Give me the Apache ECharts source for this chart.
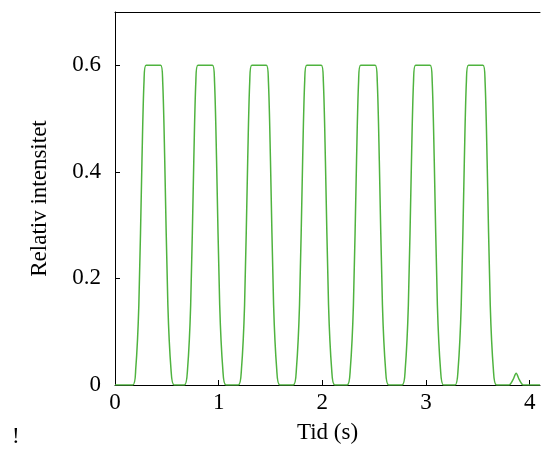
<!DOCTYPE html>
<html><head><meta charset="utf-8">
<script src="https://cdn.jsdelivr.net/npm/echarts@6/dist/echarts.min.js"></script>
<style>html,body{margin:0;background:#fff}#main{width:541px;height:455px}</style>
</head><body><div id="main"></div>
<script>
// pulse centres (s)
var pulseCenters = [0.37, 0.87, 1.39, 1.92, 2.44, 2.97, 3.48];
// one pulse, offset from its centre and intensity
var pulseOffsets = [-0.20, -0.17, -0.14, -0.11, -0.09, -0.07, 0.07, 0.09, 0.11, 0.14, 0.17, 0.20];
var pulseValues  = [0, 0.03, 0.15, 0.42, 0.57, 0.6, 0.6, 0.57, 0.42, 0.15, 0.03, 0];
var tailTimes = [3.80, 3.84, 3.87, 3.90, 3.94, 4.10];
var tailValues = [0, 0.01, 0.022, 0.01, 0, 0];

var data = [[0, 0]];
pulseCenters.forEach(function (c) {
  pulseOffsets.forEach(function (o, i) { data.push([+(c + o).toFixed(3), pulseValues[i]]); });
});
tailTimes.forEach(function (t, i) { data.push([t, tailValues[i]]); });

var font = '"Liberation Serif", "Times New Roman", Times, serif';
var myChart = echarts.init(document.getElementById('main'));
var option = {
  animation: false,
  grid: { left: 115, right: 1, top: 12, bottom: 70 },
  xAxis: [{
    type: 'value', min: 0, max: 4.1, interval: 1,
    name: 'Tid (s)', nameLocation: 'middle', nameGap: 36,
    nameTextStyle: { fontFamily: font, fontSize: 23, color: '#000' },
    axisLine: { lineStyle: { color: '#000' } },
    axisTick: { inside: true, length: 5, lineStyle: { color: '#000' } },
    axisLabel: { fontFamily: font, fontSize: 23, color: '#000', margin: 6, showMaxLabel: false },
    splitLine: { show: false }
  }, {
    type: 'value', position: 'top', min: 0, max: 4.1,
    axisLine: { show: true, lineStyle: { color: '#000' } },
    axisTick: { show: false }, axisLabel: { show: false }, splitLine: { show: false }
  }],
  yAxis: {
    type: 'value', min: 0, max: 0.7, interval: 0.2,
    name: 'Relativ intensitet', nameLocation: 'middle', nameGap: 64,
    nameTextStyle: { fontFamily: font, fontSize: 23, color: '#000' },
    axisLine: { show: true, lineStyle: { color: '#000' } },
    axisTick: { inside: true, length: 5, lineStyle: { color: '#000' } },
    axisLabel: { fontFamily: font, fontSize: 23, color: '#000', margin: 14, showMaxLabel: false,
      formatter: function (v) { return v === 0 ? '0' : v.toFixed(1); } },
    splitLine: { show: false }
  },
  graphic: [{ type: 'text', left: 12, top: 425,
    style: { text: '!', fontFamily: font, fontSize: 23, fill: '#000' } }],
  series: [{
    type: 'line', data: data, smooth: 0.3, showSymbol: false,
    lineStyle: { color: '#4fb33f', width: 1.5 }
  }]
};
myChart.setOption(option);
</script></body></html>
